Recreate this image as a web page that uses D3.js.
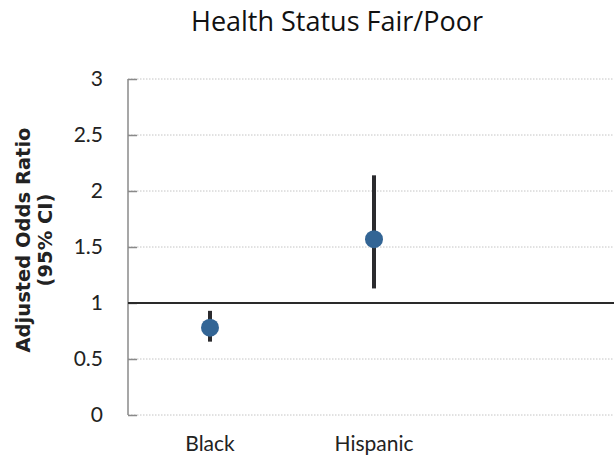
<!DOCTYPE html>
<html>
<head>
<meta charset="utf-8">
<script src="https://cdn.jsdelivr.net/npm/d3@7"></script>
<style>
  html, body { margin: 0; padding: 0; background: #fff; }
  svg { display: block; }
</style>
</head>
<body>
<svg id="chart" width="614" height="458"></svg>
<script>
// Adjusted odds ratios with 95% confidence intervals
const categories = ["Black", "Hispanic", ""];
const oddsRatio  = [0.78, 1.57];
const ciLower    = [0.655, 1.13];
const ciUpper    = [0.93, 2.14];
const yTicks     = [0, 0.5, 1, 1.5, 2, 2.5, 3];
const yTickLabels = ["0", "0.5", "1", "1.5", "2", "2.5", "3"];
const referenceValue = 1;

const svg = d3.select("#chart");
const margin = { left: 128, right: -6, top: 79, bottom: 43 };
const W = 614, H = 458;

const x = d3.scaleBand()
  .domain(categories)
  .range([margin.left, W - margin.right]);

const y = d3.scaleLinear()
  .domain([0, 3])
  .range([H - margin.bottom, margin.top]);

const tickFont = "'Lato', 'Open Sans', sans-serif";

// Title
svg.append("text")
  .attr("x", 337).attr("y", 31)
  .attr("text-anchor", "middle")
  .attr("font-family", "'Open Sans', 'Noto Sans', sans-serif")
  .attr("font-size", 27)
  .attr("fill", "#111")
  .text("Health Status Fair/Poor");

// Dotted gridlines
svg.append("g")
  .selectAll("line")
  .data(yTicks.filter(v => v !== referenceValue))
  .join("line")
  .attr("x1", margin.left).attr("x2", W)
  .attr("y1", d => y(d)).attr("y2", d => y(d))
  .attr("stroke", "#c4c4c4")
  .attr("stroke-width", 1)
  .attr("stroke-dasharray", "1.5,1.5");

// Y axis with inward ticks
const yAxis = d3.axisLeft(y)
  .tickValues(yTicks)
  .tickFormat((d, i) => yTickLabels[i])
  .tickSize(-9)
  .tickPadding(25);

const gy = svg.append("g")
  .attr("transform", `translate(${margin.left},0)`)
  .call(yAxis);
gy.select(".domain")
  .attr("stroke", "#8a8a8a")
  .attr("stroke-width", 1.5)
  .attr("d", `M0,${y(3)}V${y(0)}`);
gy.selectAll(".tick line")
  .attr("stroke", "#8a8a8a")
  .attr("stroke-width", 1.5);
gy.selectAll(".tick text")
  .attr("font-family", tickFont)
  .attr("font-size", 21)
  .attr("fill", "#222");

// Reference line at odds ratio 1
svg.append("line")
  .attr("x1", margin.left).attr("x2", W)
  .attr("y1", y(referenceValue)).attr("y2", y(referenceValue))
  .attr("stroke", "#2a2a2a")
  .attr("stroke-width", 2);

// X axis labels
const xAxis = d3.axisBottom(x).tickSize(0).tickPadding(21);
const gx = svg.append("g")
  .attr("transform", `translate(0,${y(0)})`)
  .call(xAxis);
gx.select(".domain").remove();
gx.selectAll(".tick text")
  .attr("font-family", tickFont)
  .attr("font-size", 21)
  .attr("fill", "#222");

// Y axis title
const yTitle = svg.append("text")
  .attr("transform", `translate(30,240) rotate(-90)`)
  .attr("text-anchor", "middle")
  .attr("font-family", "'DejaVu Sans', sans-serif")
  .attr("font-weight", "bold")
  .attr("font-size", 19.5)
  .attr("fill", "#222");
yTitle.append("tspan").attr("x", 0).attr("dy", 0).text("Adjusted Odds Ratio");
yTitle.append("tspan").attr("x", 0).attr("dy", 22).text("(95% CI)");

const points = oddsRatio.map((v, i) => ({
  cat: categories[i], or: v, lo: ciLower[i], hi: ciUpper[i]
}));
const cx = d => x(d.cat) + x.bandwidth() / 2;

// Confidence interval bars
svg.append("g")
  .selectAll("line")
  .data(points)
  .join("line")
  .attr("x1", cx).attr("x2", cx)
  .attr("y1", d => y(d.lo)).attr("y2", d => y(d.hi))
  .attr("stroke", "#2b2b2e")
  .attr("stroke-width", 4);

// Point estimates
svg.append("g")
  .selectAll("circle")
  .data(points)
  .join("circle")
  .attr("cx", cx)
  .attr("cy", d => y(d.or))
  .attr("r", 9)
  .attr("fill", "#336595");
</script>
</body>
</html>
